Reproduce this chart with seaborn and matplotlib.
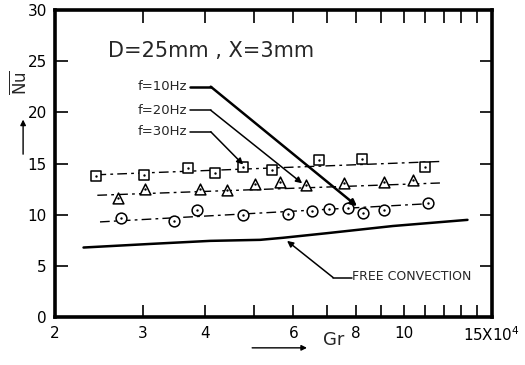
import matplotlib
matplotlib.use("Agg")
import matplotlib.pyplot as plt
import seaborn as sns

# Gr in units of 10^4, mean Nusselt number
gr_30hz = [2.42, 3.01, 3.69, 4.18, 4.76, 5.44, 6.75, 8.24, 11.0]
nu_30hz = [13.75, 13.9, 14.6, 14.1, 14.7, 14.4, 15.3, 15.4, 14.7]

gr_20hz = [2.67, 3.03, 3.90, 4.42, 5.03, 5.64, 6.36, 7.58, 9.12, 10.42]
nu_20hz = [11.6, 12.5, 12.5, 12.4, 13.0, 13.2, 12.9, 13.1, 13.2, 13.4]

gr_10hz = [2.71, 3.46, 3.85, 4.76, 5.86, 6.54, 7.07, 7.72, 8.27, 9.12, 11.17]
nu_10hz = [9.7, 9.4, 10.45, 9.97, 10.07, 10.36, 10.55, 10.65, 10.16, 10.45, 11.13]

# hand-drawn fit lines (end points)
fit30_gr = [2.42, 11.8]
fit30_nu = [13.9, 15.2]
fit20_gr = [2.43, 11.8]
fit20_nu = [11.9, 13.1]
fit10_gr = [2.46, 11.4]
fit10_nu = [9.3, 11.1]

# free convection curve
free_gr = [2.28, 3.1, 4.09, 5.15, 5.72, 7.01, 9.5, 13.4]
free_nu = [6.8, 7.15, 7.45, 7.55, 7.75, 8.2, 8.9, 9.5]

x_ticks = list(range(2, 16))
x_labels = {2: '2', 3: '3', 4: '4', 6: '6', 8: '8', 10: '10', 15: '15X10$^4$'}
y_ticks = [0, 5, 10, 15, 20, 25, 30]

sns.set_style("ticks")
plt.rcParams['font.family'] = ['DejaVu Sans']

fig = plt.figure(figsize=(5.25, 3.65), dpi=100)
ax = fig.add_axes([0.105, 0.131, 0.832, 0.842])

dash = (0, (7, 3, 2, 3))
for g, n in [(fit30_gr, fit30_nu), (fit20_gr, fit20_nu), (fit10_gr, fit10_nu)]:
    sns.lineplot(x=g, y=n, ax=ax, color='k', lw=1.0, linestyle=dash)
sns.lineplot(x=free_gr, y=free_nu, ax=ax, color='k', lw=1.8, sort=False)

for g, n, m in [(gr_30hz, nu_30hz, 's'), (gr_20hz, nu_20hz, '^'), (gr_10hz, nu_10hz, 'o')]:
    sns.scatterplot(x=g, y=n, ax=ax, marker=m, s=60, facecolor='white',
                    edgecolor='k', linewidth=1.1, zorder=3)
    sns.scatterplot(x=g, y=n, ax=ax, marker='o', s=3, color='k',
                    edgecolor='k', linewidth=0, zorder=4)

ax.set_xscale('log')
ax.set_xlim(2, 15)
ax.set_ylim(0, 30)
ax.set_xticks(x_ticks)
ax.set_xticklabels([x_labels.get(t, '') for t in x_ticks])
ax.minorticks_off()
ax.set_yticks(y_ticks)
ax.set_yticklabels([str(t) for t in y_ticks])
ax.tick_params(axis='both', direction='in', length=9, width=1.2,
               top=True, right=True, labelsize=11, pad=6, colors='k')
for s in ax.spines.values():
    s.set_linewidth(2.6)
    s.set_color('k')

ax.text(0.12, 0.865, 'D=25mm , X=3mm', transform=ax.transAxes,
        fontsize=15, va='center', ha='left')

# frequency labels with leader arrows
labels = [('f=10Hz', 22.5, 8.05, 10.84, 1.8),
          ('f=20Hz', 20.2, 6.25, 13.07, 1.1),
          ('f=30Hz', 18.1, 4.76, 14.9, 1.1)]
for txt, yl, xt, yt, lw in labels:
    ax.text(3.68, yl, txt, fontsize=9.5, ha='right', va='center')
    ax.plot([3.72, 4.1], [yl, yl], color='k', lw=lw)
    ax.annotate('', xy=(xt, yt), xytext=(4.1, yl),
                arrowprops=dict(arrowstyle='-|>', color='k', lw=lw,
                                shrinkA=0, shrinkB=0, mutation_scale=9))

ax.text(7.87, 3.95, 'FREE CONVECTION', fontsize=9, ha='left', va='center')
ax.plot([7.85, 7.21], [3.87, 3.87], color='k', lw=1.1)
ax.annotate('', xy=(5.83, 7.45), xytext=(7.21, 3.87),
            arrowprops=dict(arrowstyle='-|>', color='k', lw=1.1,
                            shrinkA=0, shrinkB=0, mutation_scale=9))

# axis labels with arrows
fig.text(0.038, 0.775, r'$\overline{\mathrm{Nu}}$', rotation=90,
         fontsize=12, ha='center', va='center')
ax.annotate('', xy=(0.044, 0.68), xytext=(0.044, 0.57), xycoords='figure fraction',
            textcoords='figure fraction', annotation_clip=False,
            arrowprops=dict(arrowstyle='-|>', color='k', lw=1.0, mutation_scale=8))
fig.text(0.615, 0.068, 'Gr', fontsize=13, ha='left', va='center')
ax.annotate('', xy=(0.59, 0.047), xytext=(0.475, 0.047), xycoords='figure fraction',
            textcoords='figure fraction', annotation_clip=False,
            arrowprops=dict(arrowstyle='-|>', color='k', lw=1.0, mutation_scale=8))

fig.savefig('out.png', dpi=100, facecolor='white')
